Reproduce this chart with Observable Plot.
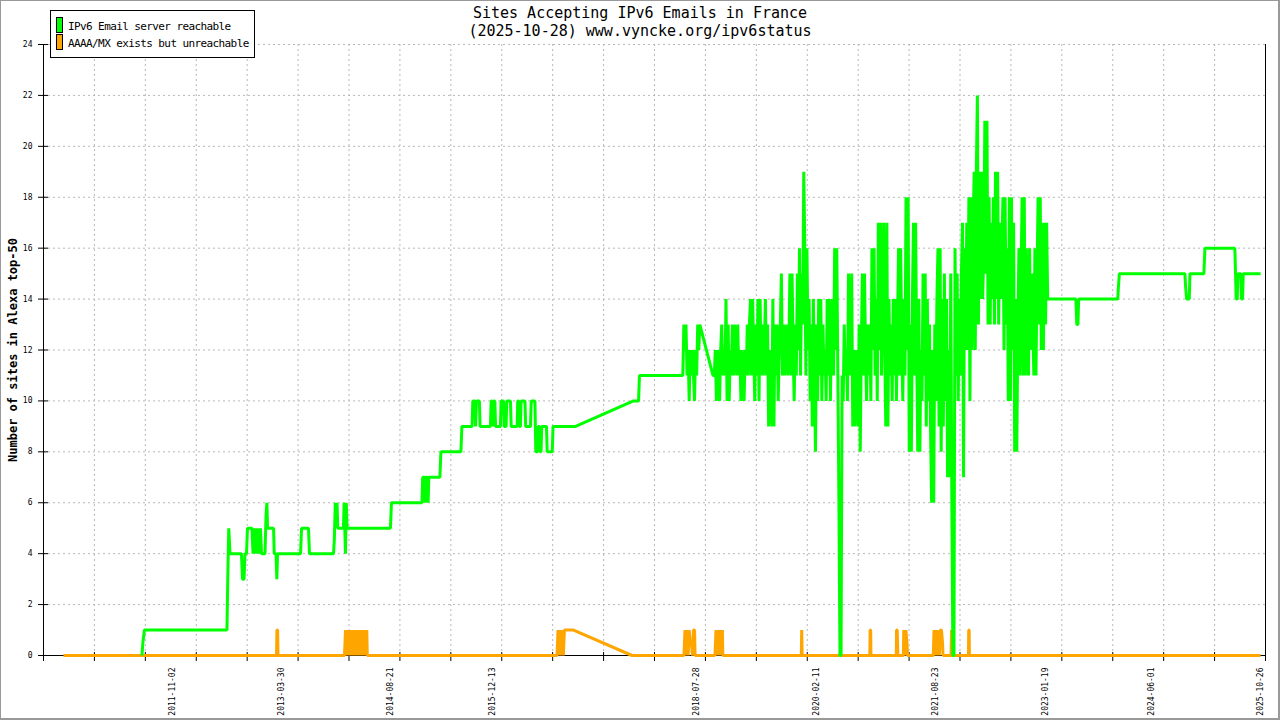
<!DOCTYPE html>
<html><head><meta charset="utf-8">
<script src="https://cdn.jsdelivr.net/npm/d3@7"></script>
<script src="https://cdn.jsdelivr.net/npm/@observablehq/plot@0.6"></script>
<style>
body{margin:0;background:#fff;}
#wrap{position:relative;width:1280px;height:720px;overflow:hidden;font-family:"DejaVu Sans Mono",monospace;background:#fff;}
#wrap svg{position:absolute;left:0;top:0;}
.title{position:absolute;left:0;width:1280px;text-align:center;font-size:15px;line-height:15px;white-space:pre;color:#000;}
#legend{position:absolute;left:50px;top:10px;width:203px;height:46px;border:1px solid #000;background:#fff;}
.sw{position:absolute;left:5px;width:5px;height:14px;border:1px solid #000;}
.lt{position:absolute;left:17px;font-size:11px;line-height:11px;letter-spacing:-0.6px;white-space:pre;color:#000;}
#border{position:absolute;left:0;top:0;width:1280px;height:720px;box-sizing:border-box;border:1px solid #999;border-right-width:2px;border-bottom-width:2px;pointer-events:none;}
</style></head>
<body>
<div id="wrap">
  <div id="plot"></div>
  <div class="title" id="t1" style="top:6px"></div>
  <div class="title" id="t2" style="top:24px"></div>
  <div id="legend">
    <div class="sw" id="sw0" style="top:6px"></div><div class="lt" id="lt0" style="top:10px"></div>
    <div class="sw" id="sw1" style="top:23px"></div><div class="lt" id="lt1" style="top:27px"></div>
  </div>
  <div id="border"></div>
</div>
<script>
// ---------- text ----------
const titleLines = ["Sites Accepting IPv6 Emails in France", "(2025-10-28) www.vyncke.org/ipv6status"];
const yAxisLabel = "Number of sites in Alexa top-50";
const seriesNames = ["IPv6 Email server reachable", "AAAA/MX exists but unreachable"];
const seriesColors = ["#00ff00", "#ffa500"];

// ---------- axes ----------
const xDomain = ["2010-03-07", "2025-11-19"];
const yDomain = [0, 24];
const yTickValues = [0, 2, 4, 6, 8, 10, 12, 14, 16, 18, 20, 22, 24];
const xTickIntervals = 24;
const xLabelDates = ["2011-11-02", "2013-03-30", "2014-08-21", "2015-12-13", "2018-07-28",
  "2020-02-11", "2021-08-23", "2023-01-19", "2024-06-01", "2025-10-26"];

// ---------- data: [decimal year, count] ----------
const reachablePoints = [
  [2011.444,0],[2011.456,0.5],[2011.476,1],[2012.536,1],[2012.546,3],[2012.559,5],[2012.575,4],[2012.722,4],
  [2012.735,3],[2012.755,3],[2012.767,4],[2012.787,4],[2012.799,5],[2012.857,5],
  [2012.992,4],[2013.024,4],[2013.037,5.5],[2013.048,6],[2013.057,5],[2013.134,5],[2013.143,4],[2013.166,4],
  [2013.176,3],[2013.185,4],[2013.481,4],[2013.494,5],[2013.583,5],[2013.596,4],[2013.905,4],[2013.915,4.5],
  [2013.928,6],[2013.939,5],[2013.950,6],[2013.960,5],[2014.033,5],[2014.041,6],[2014.050,5],[2014.059,4],
  [2014.069,6],[2014.080,5],[2014.637,5],[2014.650,6],[2015.042,6],[2015.052,7],[2015.074,7],[2015.083,6],
  [2015.091,7],[2015.113,7],[2015.122,6],[2015.130,7],[2015.273,7],[2015.286,8],[2015.543,8],[2015.556,9],
  [2015.687,9],[2015.696,10],[2015.723,10],[2015.732,9],[2015.743,10],[2015.781,10],[2015.790,9],[2015.923,9],
  [2015.932,10],[2015.946,10],[2015.955,9],[2015.964,10],[2015.980,10],[2015.989,9],[2016.051,9],[2016.060,10],
  [2016.090,10],[2016.099,9],[2016.124,9],[2016.132,10],[2016.180,10],[2016.189,9],[2016.266,9],[2016.273,10],
  [2016.286,10],[2016.295,9],[2016.308,9],[2016.316,10],[2016.366,10],[2016.375,9],[2016.437,9],[2016.446,10],
  [2016.494,10],[2016.505,8],[2016.527,8],[2016.536,9],[2016.552,9],[2016.560,8],[2016.572,8],[2016.581,9],
  [2016.642,9],[2016.651,8],[2016.716,8],[2016.726,9],[2017.015,9],[2017.760,10],[2017.825,10],[2017.837,11],
  [2018.377,11],[2018.782,11],
  [2023.100,14],[2023.447,14],[2023.458,13],[2023.473,13],[2023.482,14],[2023.985,14],[2023.994,14.5],[2024.006,15],
  [2024.846,15],[2024.855,14.5],[2024.868,14],[2024.902,14],[2024.911,15],[2025.090,15],[2025.103,16],[2025.488,16],
  [2025.497,15],[2025.505,14],[2025.519,14],[2025.527,15],[2025.564,15],[2025.572,14],[2025.587,14],[2025.596,15],
  [2025.819,15]
];
// dense stretches, one reading every 5 days
const reachableDense = [
  {start: 2012.870, stepDays: 5, values: [4,5,4,5,4,5,4,5,4]},
  {start: 2018.394, stepDays: 5, values: [11,13,12,13,11,12,10,12,11,12,11,10,12,11,13,12,13]},
  {start: 2018.799, stepDays: 5, values: [
    11,12,10,12,11,10,12,13,11,12, 11,14,10,13,10,12,11,13,11,13,
    12,11,13,11,12,10,12,11,10,12, 11,13,11,13,14,11,14,12,10,13,
    11,14,10,14,11,13,11,12,14,11, 13,9,12,11,9,14,9,13,11,13,
    10,12,13,15,11,13,11,12,13,11, 12,15,11,15,12,10,13,11,15,12,
    16,11,15,13,19,16,11,16,12,14, 10,13,9,14,11,8,13,10,14,11,
    14,10,13,11,12,10,14,11,14,10, 13,14,11,16,12,16,11,6,0,0,
    11,10,13,11,12,10,15,11,13,15, 9,12,9,12,11,9,13,8,12,15,
    11,15,12,10,13,11,13,10,16,12, 16,11,14,10,17,12,17,11,15,17,
    12,9,17,9,14,11,13,10,14,11, 14,10,13,16,11,16,12,10,14,11,
    18,12,18,8,13,8,14,17,11,17, 12,8,14,8,12,10,15,11,15,9,
    14,10,13,9,6,12,6,13,10,14, 16,9,16,8,14,9,15,10,14,7,
    12,7,15,6,0,0,16,11,15,10, 14,11,15,17,7,16,12,17,12,18,
    10,18,12,17,19,12,19,22,13,19, 14,19,14,16,21,15,21,13,18,13,
    17,14,18,13,19,14,19,13,17,14, 16,18,12,18,13,16,10,18,10,18,
    12,17,8,14,8,13,16,11,15,18, 11,18,11,16,12,11,16,12,15,13,
    11,16,11,15,18,13,18,12,17,12, 17,13,17,14]}
];
const unreachablePoints = [
  [2010.435,0],[2013.172,0],[2013.177,1],[2013.186,1],[2013.191,0],[2014.046,0],
  [2014.339,0],[2016.777,0],[2016.886,1],[2016.989,1],[2017.741,0],[2018.409,0],
  [2018.552,0],[2018.808,0],[2018.909,0],[2019.918,0],[2019.923,1],[2019.929,0],
  [2020.797,0],[2020.801,1],[2020.808,1],[2020.811,0],[2021.137,0],[2021.140,1],[2021.149,1],[2021.153,0.5],[2021.157,0],
  [2021.228,0],[2021.282,0],[2021.613,0],[2021.738,0],[2021.841,0],[2021.847,1],[2021.854,0],
  [2022.065,0],[2022.068,1],[2022.074,1],[2022.077,0],[2025.819,0]
];
const unreachableDense = [
  {start: 2014.059, stepDays: 5, values: [1,0,1,0,1,0,1,0,1,0,1,0,1,0,1,0,1,0,1,0,1]},
  {start: 2016.790, stepDays: 5, values: [1,0,1,0,1,0,1]},
  {start: 2018.422, stepDays: 5, values: [1,0,1,0,1,0.5,0.5,0,1,1]},
  {start: 2018.821, stepDays: 5, values: [1,0,1,0,1,0,1]},
  {start: 2021.233, stepDays: 5, values: [1,0,1,0.5]},
  {start: 2021.622, stepDays: 5, values: [1,0,1,0,1,0,1,1,0.5]}
];

// ---------- build ----------
const DAY = 864e5;
function fromDecimalYear(y) {
  const yr = Math.floor(y);
  const a = Date.UTC(yr, 0, 1), b = Date.UTC(yr + 1, 0, 1);
  return new Date(a + (y - yr) * (b - a));
}
function buildSeries(points, blocks) {
  const rows = points.map(([y, v]) => ({date: fromDecimalYear(y), value: v}));
  for (const blk of blocks) {
    const t0 = +fromDecimalYear(blk.start);
    blk.values.forEach((v, i) => rows.push({date: new Date(t0 + i * blk.stepDays * DAY), value: v}));
  }
  return rows.sort((a, b) => a.date - b.date);
}
const reachable = buildSeries(reachablePoints, reachableDense);
const unreachable = buildSeries(unreachablePoints, unreachableDense);

const x0 = new Date(xDomain[0]), x1 = new Date(xDomain[1]);
const xTicks = d3.range(xTickIntervals + 1).map(k => new Date(+x0 + k * (x1 - x0) / xTickIntervals));
const labelDates = xLabelDates.map(s => new Date(s));
const gridStyle = {stroke: "#b8b8b8", strokeOpacity: 1, strokeDasharray: "2,3"};
const font = "DejaVu Sans Mono";

const chart = Plot.plot({
  width: 1280, height: 720,
  marginLeft: 43, marginRight: 15, marginTop: 44, marginBottom: 65,
  style: {fontFamily: font, background: "transparent", color: "#000"},
  x: {type: "utc", domain: [x0, x1]},
  y: {domain: yDomain},
  marks: [
    Plot.gridY(yTickValues.slice(1), gridStyle),
    Plot.gridX(xTicks.slice(1, -1), gridStyle),
    Plot.ruleX([x0, x1], {stroke: "#000"}),
    Plot.ruleY([yDomain[0]], {stroke: "#000"}),
    Plot.axisX(xTicks, {tickSize: 9, dy: -3, tickFormat: () => "", label: null}),
    Plot.axisX(labelDates, {tickSize: 0, tickPadding: 12, tickRotate: -90, tickFormat: d3.utcFormat("%Y-%m-%d"), fontSize: 8, label: null}),
    Plot.axisY(yTickValues, {tickSize: 10, dx: 5, tickPadding: 6, fontSize: 8, label: null}),
    Plot.line(unreachable, {x: "date", y: "value", stroke: seriesColors[1], strokeWidth: 3, strokeLinejoin: "bevel", strokeLinecap: "butt"}),
    Plot.line(reachable, {x: "date", y: "value", stroke: seriesColors[0], strokeWidth: 3, strokeLinejoin: "bevel", strokeLinecap: "butt"}),
    Plot.text([yAxisLabel], {text: d => d, frameAnchor: "left", textAnchor: "middle", rotate: -90, dx: -30, fontSize: 12, fontWeight: "bold", fill: "#000"})
  ]
});
document.getElementById("plot").appendChild(chart);
document.getElementById("t1").textContent = titleLines[0];
document.getElementById("t2").textContent = titleLines[1];
seriesNames.forEach((n, i) => {
  document.getElementById("lt" + i).textContent = n;
  document.getElementById("sw" + i).style.background = seriesColors[i];
});
</script>
</body></html>
